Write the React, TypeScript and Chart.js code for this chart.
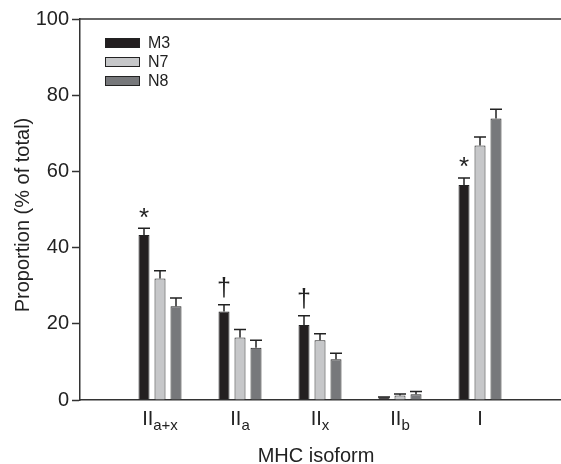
import React, { useEffect, useRef } from "react";
import { Chart, registerables } from "chart.js";

Chart.register(...registerables);

const labelMain = ["II", "II", "II", "II", "I"];
const labelSub = ["a+x", "a", "x", "b", ""];
const seriesNames = ["M3", "N7", "N8"];
const m3Values = [43.3, 23.2, 19.7, 0.7, 56.4];
const m3Errors = [1.8, 1.8, 2.4, 0.1, 1.9];
const n7Values = [31.9, 16.4, 15.7, 1.2, 66.8];
const n7Errors = [2.0, 2.1, 1.7, 0.4, 2.2];
const n8Values = [24.6, 13.7, 10.7, 1.5, 73.9];
const n8Errors = [2.2, 2.0, 1.6, 0.7, 2.4];
const m3Marks = ["*", "†", "†", "", "*"];
const yTicks = [0, 20, 40, 60, 80, 100];
const yTitle = "Proportion (% of total)";
const xTitle = "MHC isoform";

const FONT = "'Liberation Sans', Arial, Helvetica, sans-serif";
const fills = ["#231f20", "#c6c7c9", "#77787b"];
const INK = "#222222";

const pad = (arr: (number | null)[]) => [null, ...arr, null];

export default function App() {
  const ref = useRef<HTMLCanvasElement | null>(null);

  useEffect(() => {
    const canvas = ref.current;
    if (!canvas) return;
    const values = [m3Values, n7Values, n8Values];
    const errors = [m3Errors, n7Errors, n8Errors];

    const customPlugin = {
      id: "custom",
      afterDatasetsDraw(chart: any) {
        const ctx = chart.ctx;
        const yScale = chart.scales.y;
        const xScale = chart.scales.x;
        const area = chart.chartArea;
        ctx.save();
        // error bars
        ctx.strokeStyle = INK;
        ctx.lineWidth = 1.5;
        for (let d = 0; d < 3; d++) {
          const meta = chart.getDatasetMeta(d);
          meta.data.forEach((el: any, j: number) => {
            const i = j - 1;
            if (i < 0 || i >= values[d].length) return;
            const v = values[d][i];
            const e = errors[d][i];
            const yBar = yScale.getPixelForValue(v);
            const yTop = yScale.getPixelForValue(v + e);
            ctx.beginPath();
            ctx.moveTo(el.x, yBar);
            ctx.lineTo(el.x, yTop);
            ctx.moveTo(el.x - 6, yTop);
            ctx.lineTo(el.x + 6, yTop);
            ctx.stroke();
          });
        }
        // significance marks on M3
        const meta0 = chart.getDatasetMeta(0);
        meta0.data.forEach((el: any, j: number) => {
          const i = j - 1;
          if (i < 0 || i >= m3Marks.length) return;
          const s = m3Marks[i];
          if (!s) return;
          const capY = yScale.getPixelForValue(m3Values[i] + m3Errors[i]);
          const isStar = s === "*";
          ctx.font = isStar ? `26px ${FONT}` : `25px ${FONT}`;
          ctx.fillStyle = INK;
          const m = ctx.measureText(s);
          const inkH = m.actualBoundingBoxAscent + m.actualBoundingBoxDescent;
          const centerY = capY - (isStar ? 15.5 : 17.5);
          const baseY = centerY + inkH / 2 - m.actualBoundingBoxDescent;
          ctx.textAlign = "center";
          ctx.textBaseline = "alphabetic";
          ctx.fillText(s, el.x, baseY);
        });
        // top border
        ctx.strokeStyle = "#333";
        ctx.lineWidth = 1.5;
        ctx.beginPath();
        ctx.moveTo(area.left, area.top);
        ctx.lineTo(chart.width, area.top);
        ctx.stroke();
        // x labels with subscripts
        ctx.fillStyle = INK;
        ctx.textBaseline = "alphabetic";
        ctx.textAlign = "left";
        for (let i = 0; i < labelMain.length; i++) {
          const cx = xScale.getPixelForValue(i + 1);
          ctx.font = `20px ${FONT}`;
          const wMain = ctx.measureText(labelMain[i]).width;
          ctx.font = `15px ${FONT}`;
          const wSub = labelSub[i] ? ctx.measureText(labelSub[i]).width : 0;
          const x0 = cx - (wMain + wSub) / 2;
          ctx.font = `20px ${FONT}`;
          ctx.fillText(labelMain[i], x0, 425);
          if (labelSub[i]) {
            ctx.font = `15px ${FONT}`;
            ctx.fillText(labelSub[i], x0 + wMain, 430);
          }
        }
        // x title
        ctx.font = `20px ${FONT}`;
        ctx.textAlign = "center";
        ctx.fillText(xTitle, (area.left + area.right) / 2 - 4, 462);
        // y title
        ctx.save();
        ctx.translate(29, 215);
        ctx.rotate(-Math.PI / 2);
        ctx.textAlign = "center";
        ctx.textBaseline = "alphabetic";
        ctx.font = `20px ${FONT}`;
        ctx.fillText(yTitle, 0, 0);
        ctx.restore();
        // legend
        ctx.font = `16px ${FONT}`;
        ctx.textBaseline = "middle";
        ctx.textAlign = "left";
        const rows = [43, 62, 81];
        for (let d = 0; d < 3; d++) {
          ctx.fillStyle = fills[d];
          ctx.fillRect(105, rows[d] - 5, 35, 10);
          ctx.strokeStyle = INK;
          ctx.lineWidth = 1;
          ctx.strokeRect(105.5, rows[d] - 4.5, 34, 9);
          ctx.fillStyle = INK;
          ctx.fillText(seriesNames[d], 148, rows[d] + 1);
        }
        ctx.restore();
      },
    };

    const chart = new Chart(canvas, {
      type: "bar",
      data: {
        labels: ["", ...labelMain.map((m, i) => m + labelSub[i]), ""],
        datasets: values.map((v, d) => ({
          label: seriesNames[d],
          data: pad(v),
          backgroundColor: fills[d],
          borderColor: INK,
          borderWidth: 1,
          categoryPercentage: 0.6,
          barPercentage: 0.6875,
        })),
      },
      options: {
        responsive: false,
        animation: false,
        events: [],
        layout: { padding: { top: 19, right: 1, left: 0, bottom: 0 } },
        plugins: {
          legend: { display: false },
          tooltip: { enabled: false },
          title: { display: false },
        },
        scales: {
          x: {
            type: "category",
            offset: false,
            grid: { display: false, offset: false },
            ticks: { display: false },
            border: { display: true, color: "#333", width: 1.5 },
            afterFit: (scale: any) => {
              scale.height = 64;
            },
          },
          y: {
            min: 0,
            max: 100,
            afterBuildTicks: (scale: any) => {
              scale.ticks = yTicks.map((v) => ({ value: v }));
            },
            ticks: {
              color: INK,
              font: { family: FONT, size: 20 },
              padding: 3,
            },
            grid: {
              drawOnChartArea: false,
              drawTicks: true,
              tickLength: 8,
              tickColor: "#333",
              tickWidth: 1.5,
            },
            border: { display: true, color: "#333", width: 1.5 },
            afterFit: (scale: any) => {
              scale.width = 80;
            },
          },
        },
      },
      plugins: [customPlugin],
    });
    return () => chart.destroy();
  }, []);

  return (
    <div style={{ position: "absolute", left: 0, top: 0, width: 561, height: 464, background: "#fff" }}>
      <canvas ref={ref} width={561} height={464} />
    </div>
  );
}
